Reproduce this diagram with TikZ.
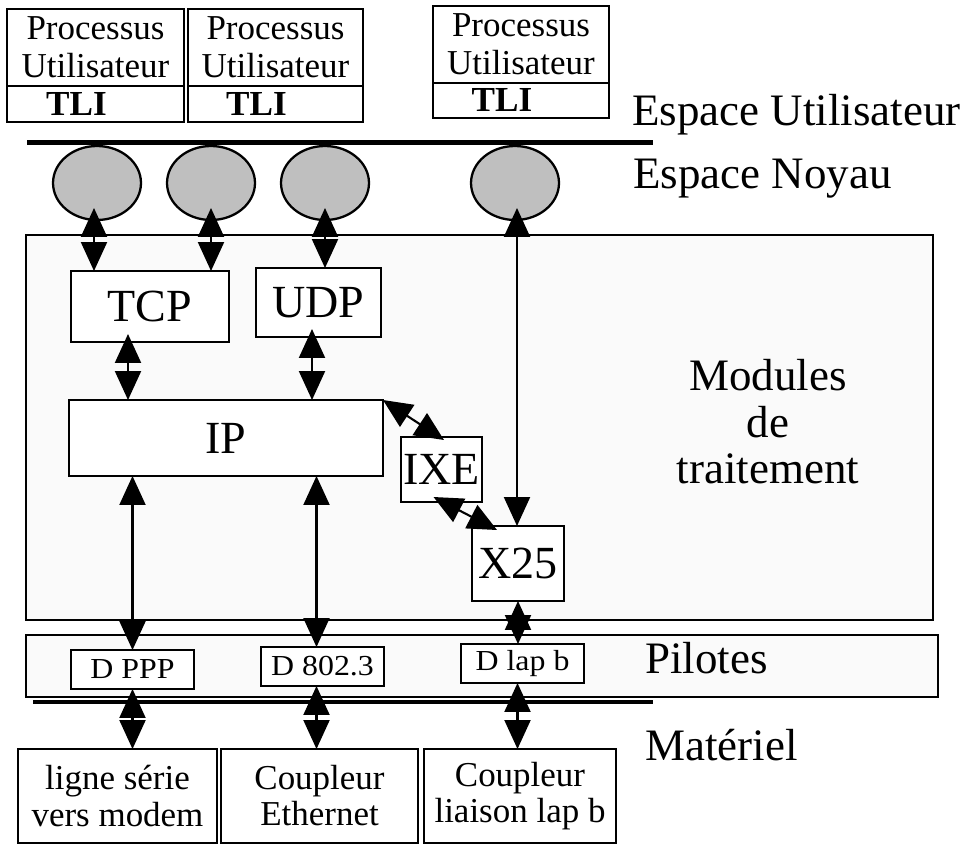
\documentclass[tikz,border=0pt]{standalone}
\usepackage{fontspec}
\setmainfont{Liberation Serif}
\usetikzlibrary{arrows.meta,shapes.geometric}
\tikzset{
	boite/.style={draw, line width=1.3pt, fill=white, inner sep=0pt, outer sep=0pt, align=center},
	proc/.style={boite, font=\fontsize{19.9}{21.6}\selectfont},
	tli/.style={boite, font=\fontsize{20}{20}\selectfont\bfseries},
	module/.style={boite, font=\fontsize{26.2}{28}\selectfont},
	pilote/.style={boite, minimum width=2.46cm, minimum height=0.78cm, font=\fontsize{16.5}{17}\selectfont},
	materiel/.style={boite, minimum height=1.88cm, font=\fontsize{19.9}{20.5}\selectfont},
	bulle/.style={ellipse, draw, line width=1.3pt, fill=black!25, minimum width=1.76cm, minimum height=1.48cm, inner sep=0pt},
	zone/.style={draw, line width=1.3pt, fill=black!2},
	couche/.style={anchor=base west, inner sep=0pt, font=\fontsize{25.6}{26.5}\selectfont},
	dbl/.style={line width=1.2pt, {Triangle[length=0.58cm, width=0.52cm]}-{Triangle[length=0.58cm, width=0.52cm]}}
}
\begin{document}
\begin{tikzpicture}[x=0.02cm, y=-0.02cm]
			%%%%% START %%%%%
			\useasboundingbox (0, 0) rectangle (969, 844);
			
			\draw[zone] (26, 235) rectangle (933, 620);
			\draw[zone] (26, 635) rectangle (938, 697);
			\draw[line width=2.4pt] (27, 142.5) -- (653, 142.5);
			\draw[line width=2.4pt] (33, 702) -- (653, 702);
			
			\node[proc, minimum width=3.54cm, minimum height=1.54cm] (proc1) at (95.5, 47.5) {Processus\\Utilisateur};
			\node[tli, minimum width=3.54cm, minimum height=0.72cm, anchor=north] (tli1) at (proc1.south) {TLI\hspace*{0.76cm}};
			\node[proc, minimum width=3.5cm, minimum height=1.54cm] (proc2) at (275.5, 47.5) {Processus\\Utilisateur};
			\node[tli, minimum width=3.5cm, minimum height=0.72cm, anchor=north] (tli2) at (proc2.south) {TLI\hspace*{0.76cm}};
			\node[proc, minimum width=3.52cm, minimum height=1.54cm] (proc3) at (521, 44.5) {Processus\\Utilisateur};
			\node[tli, minimum width=3.52cm, minimum height=0.7cm, anchor=north] (tli3) at (proc3.south) {TLI\hspace*{0.76cm}};
			
			\node[bulle] (ell1) at (97, 183) {};
			\node[bulle] (ell2) at (211, 183) {};
			\node[bulle] (ell3) at (325, 183) {};
			\node[bulle] (ell4) at (515, 183) {};
			
			\node[module, minimum width=3.16cm, minimum height=1.42cm] (tcp) at (150, 306.5) {TCP};
			\node[module, minimum width=2.5cm, minimum height=1.38cm] (udp) at (318.5, 302.5) {UDP};
			\node[module, minimum width=6.28cm, minimum height=1.52cm] (ip) at (226, 438) {IP};
			\node[module, minimum width=1.62cm, minimum height=1.3cm] (ixe) at (441.5, 469.5) {IXE};
			\node[module, minimum width=1.84cm, minimum height=1.5cm] (x25) at (518, 563.5) {X25};
			
			\node[pilote] (dppp) at (132.5, 669.5) {\scalebox{1.1}[1]{D PPP}};
			\node[pilote] (deth) at (322.5, 666.5) {\scalebox{1.1}[1]{D 802.3}};
			\node[pilote] (dlapb) at (522.5, 663.5) {\scalebox{1.1}[1]{D lap b}};
			
			\node[materiel, minimum width=3.98cm] (serie) at (117.5, 796) {ligne série\\vers modem};
			\node[materiel, minimum width=3.94cm] (ether) at (319.5, 796) {Coupleur\\Ethernet};
			\node[materiel, minimum width=3.84cm] (liaison) at (520, 796) {Coupleur\\liaison lap b};
			
			\node[couche] (user) at (632, 126) {Espace Utilisateur};
			\node[couche] (noyau) at (633, 189) {Espace Noyau};
			\node[couche, anchor=center, align=center] (traitement) at (768, 422) {Modules\\de\\traitement};
			\node[couche] (pilotes) at (645, 673) {Pilotes};
			\node[couche] (materiel) at (645, 760) {Matériel};
			
			\draw[dbl, shorten <=0.5cm] ([xshift=-0.06cm]ell1.center) -- ([xshift=-0.06cm]ell1.center |- tcp.north);
			\draw[dbl, shorten <=0.5cm] (ell2.center) -- (ell2.center |- tcp.north);
			\draw[dbl, shorten <=0.5cm] (ell3.center) -- (ell3.center |- udp.north);
			\draw[dbl, shorten <=0.5cm] ([xshift=0.04cm]ell4.center) -- ([xshift=0.04cm]ell4.center |- x25.north);
			
			\draw[dbl] ([xshift=-0.44cm, yshift=0.16cm]tcp.south) -- ([xshift=-0.44cm]tcp.south |- ip.north);
			\draw[dbl] ([xshift=-0.13cm, yshift=0.16cm]udp.south) -- ([xshift=-0.13cm]udp.south |- ip.north);
			\draw[dbl] (ip.north east) -- ([xshift=0.05cm, yshift=-0.06cm]ixe.north);
			\draw[dbl] ([xshift=-0.16cm, yshift=0.1cm]ixe.south) -- ([xshift=-0.42cm, yshift=-0.08cm]x25.north);
			
			\draw[dbl] (ip.south -| dppp.north) -- (dppp.north);
			\draw[dbl] ([xshift=-0.12cm]deth.north |- ip.south) -- ([xshift=-0.12cm]deth.north);
			\draw[dbl] (x25.south) -- (x25.south |- dlapb.north);
			
			\draw[dbl] (dppp.south) -- (dppp.south |- serie.north);
			\draw[dbl] ([xshift=-0.12cm]deth.south) -- ([xshift=-0.12cm]deth.south |- ether.north);
			\draw[dbl] ([xshift=-0.1cm]dlapb.south) -- ([xshift=-0.1cm]dlapb.south |- liaison.north);
			%%%%% END %%%%%
\end{tikzpicture}
\end{document}
